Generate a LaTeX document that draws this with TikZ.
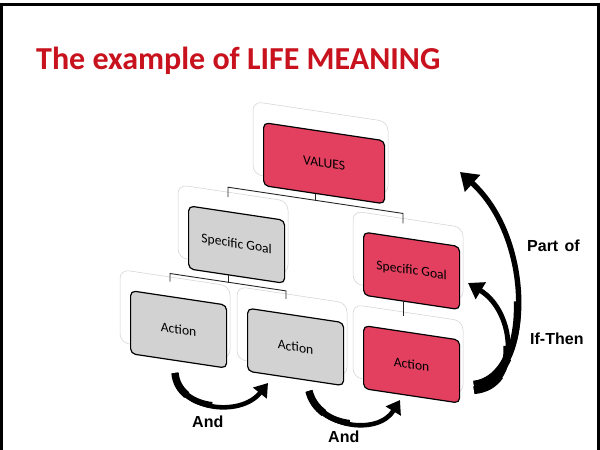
\documentclass[tikz,border=0pt]{standalone}
\usepackage{fontspec}
\setmainfont{Carlito}
\newfontfamily\labelfont{Liberation Sans}
\usetikzlibrary{arrows.meta,calc}
\definecolor{boxred}{RGB}{227,64,96}
\definecolor{boxgray}{RGB}{210,210,210}
\definecolor{titlered}{RGB}{200,18,30}
\newcommand{\halfbez}[5]{%
  \coordinate (#5b) at ($(#1)!.5!(#2)$);
  \coordinate (#5m) at ($(#2)!.5!(#3)$);
  \coordinate (#5n) at ($(#3)!.5!(#4)$);
  \coordinate (#5c) at ($(#5b)!.5!(#5m)$);
  \coordinate (#5u) at ($(#5m)!.5!(#5n)$);
  \coordinate (#5d) at ($(#5c)!.5!(#5u)$);
}
\newcommand{\taperarrow}[9]{%
  \halfbez{#1}{#2}{#3}{#4}{#5h}
  \halfbez{#1}{#5hb}{#5hc}{#5hd}{#5q}
  \draw[line width=#6, -{Triangle[#9]}] (#1) .. controls (#2) and (#3) .. (#4);
  \draw[line width=#7] (#1) .. controls (#5hb) and (#5hc) .. (#5hd);
  \draw[line width=#8] (#1) .. controls (#5qb) and (#5qc) .. (#5qd);
}
\begin{document}
\begin{tikzpicture}[x=1pt,y=-1pt,
  box/.style={draw=black, line width=1.2pt, rounded corners=5pt, minimum width=96pt,
    minimum height=63pt, inner sep=0pt, anchor=north west, transform shape,
    font=\fontsize{13.6}{15}\selectfont},
  redbox/.style={box, fill=boxred},
  graybox/.style={box, fill=boxgray},
  outl/.style={draw=black!18, line width=0.5pt, rounded corners=9pt},
  conn/.style={draw=black!85, line width=0.9pt},
  lbl/.style={font=\labelfont\bfseries\fontsize{16}{18}\selectfont, anchor=base west, inner sep=0pt}]
\useasboundingbox (0,0) rectangle (600,450);
\fill[white] (0,0) rectangle (600,450);
\draw[line width=2.8pt] (1.4,452) -- (1.4,4.6) -- (598.2,4.6) -- (598.2,452);

\node[anchor=base west, inner sep=0pt, text=titlered, font=\bfseries\fontsize{32}{36}\selectfont]
  (title) at (36,69) {The example of LIFE MEANING};

\begin{scope}[yslant=-0.15]
  % faint outlines
  \draw[outl] (253,63.5) rectangle ++(135,73);
  \draw[outl] (178,158) rectangle ++(110,73);
  \draw[outl] (353,158) rectangle ++(110,73);
  \draw[outl] (120,251.5) rectangle ++(110,73);
  \draw[outl] (237,251) rectangle ++(110,73);
  \draw[outl] (353,251.5) rectangle ++(110,73);
  % boxes
  \node[redbox, minimum width=121pt] (V) at (263,82.5) {VALUES};
  \node[graybox] (SGL) at (188,177) {Specific Goal};
  \node[redbox] (SGR) at (363,177) {Specific Goal};
  \node[graybox] (A1) at (130,270.5) {Action};
  \node[graybox] (A2) at (247,270.5) {Action};
  \node[redbox] (A3) at (363,270.5) {Action};
  % tree connectors
  \draw[conn] ($(V.south west)+(52,0)$) -- ($(V.south west)+(52,7.5)$);
  \draw[conn] ($(SGL.north west)+(40,-14)$) -- ($(SGL.north west)+(40,-24)$)
     -- ($(SGR.north west)+(40,-24)$) -- ($(SGR.north west)+(40,-14)$);
  \draw[conn] ($(SGL.south west)+(40,0)$) -- ($(SGL.south west)+(40,8)$);
  \draw[conn] ($(A1.north west)+(40,-14.5)$) -- ($(A1.north west)+(40,-22.5)$)
     -- ($(A2.north west)+(39,-22.5)$) -- ($(A2.north west)+(39,-14.5)$);
  \draw[conn] ($(SGR.south west)+(40,0)$) -- ($(A3.north west)+(40,-14.5)$);
\end{scope}

% curved arrows
\coordinate (a1s) at (175,373);
\coordinate (a1p) at (178,410);
\coordinate (a1q) at (240,418);
\coordinate (a1e) at (268,383);
\coordinate (a2s) at (309,391);
\coordinate (a2p) at (318,428);
\coordinate (a2q) at (378,436);
\coordinate (a2e) at (400,400);
\coordinate (bs) at (474,385);
\coordinate (bp) at (533,378);
\coordinate (bq) at (535,240);
\coordinate (be) at (460,172);
\coordinate (ss) at (474,390);
\coordinate (sp) at (521,386);
\coordinate (sq) at (516,312);
\coordinate (se) at (468,283);
\taperarrow{a1s}{a1p}{a1q}{a1e}{AA}{4.6pt}{6pt}{7.4pt}{width=17pt,length=13pt}
\taperarrow{a2s}{a2p}{a2q}{a2e}{AB}{4.6pt}{6pt}{7.4pt}{width=17pt,length=13pt}
\taperarrow{bs}{bp}{bq}{be}{BB}{5.4pt}{7pt}{8.6pt}{width=22pt,length=17pt}
\taperarrow{ss}{sp}{sq}{se}{SS}{5pt}{6.6pt}{8.2pt}{width=19pt,length=15pt}

% labels
\node[lbl] (partof) at (527,251.7) {Part\hspace{0.4em}of};
\node[lbl] (ifthen) at (530,344) {If-Then};
\node[lbl] (and1) at (192,427.3) {And};
\node[lbl] (and2) at (328,442.7) {And};
\end{tikzpicture}
\end{document}
